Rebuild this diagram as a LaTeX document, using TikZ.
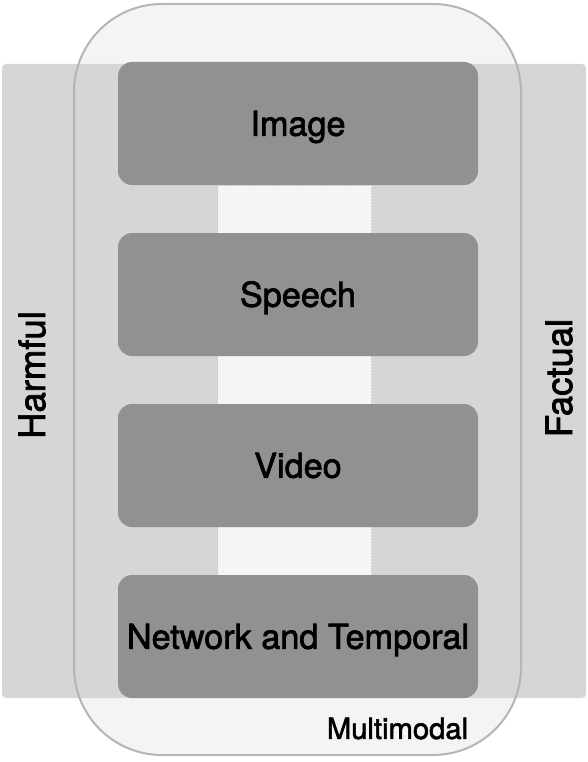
\documentclass[tikz,border=0pt]{standalone}
\usepackage{fontspec}
\setmainfont{TeX Gyre Heros}
\newfontfamily\labelfont[FakeBold=2.0]{TeX Gyre Heros}
\definecolor{bandgray}{HTML}{D6D6D6}
\definecolor{boxgray}{HTML}{919191}
\definecolor{mmfill}{HTML}{F4F4F4}
\definecolor{mmline}{HTML}{B5B5B5}
\definecolor{stripfill}{HTML}{F5F5F5}
\definecolor{stripline}{HTML}{CFCFCF}
\tikzset{
  modbox/.style={fill=boxgray, draw=none, rounded corners=14pt, minimum width=360pt,
    minimum height=123pt, inner sep=0pt, text height=24.5pt, text depth=0pt,
    font=\labelfont\fontsize{34.2}{40}\selectfont},
  sidelabel/.style={rotate=90, inner sep=0pt, font=\labelfont\fontsize{36.5}{42}\selectfont},
  mmlabel/.style={inner sep=0pt, font=\labelfont\fontsize{29.2}{34}\selectfont}
}
\begin{document}
\begin{tikzpicture}[x=1pt,y=-1pt]
\useasboundingbox (0,0) rectangle (588,762);
% multimodal fill
\fill[mmfill, rounded corners=88pt] (74,4) rectangle (521,755);
% gray band
\fill[bandgray, rounded corners=4pt] (2,64) rectangle (586,698);
% middle strip
\draw[fill=stripfill, draw=stripline, dashed, dash pattern=on 2pt off 1pt, line width=0.6pt] (217.5,185) rectangle (371.5,575);
% multimodal border
\draw[mmline, line width=2pt, rounded corners=88pt] (74,4) rectangle (521,755);
% boxes
\node[modbox] (image) at (298,123.5) {Image};
\node[modbox] (speech) at (298,294.5) {Speech};
\node[modbox] (video) at (298,465.5) {Video};
\node[modbox] (network) at (298,636.5) {Network and Temporal};
% labels
\node[sidelabel] (harmful) at (32,375) {Harmful};
\node[sidelabel] (factual) at (559,378) {Factual};
\node[mmlabel] (multimodal) at (397.5,728.5) {Multimodal};
\end{tikzpicture}
\end{document}
